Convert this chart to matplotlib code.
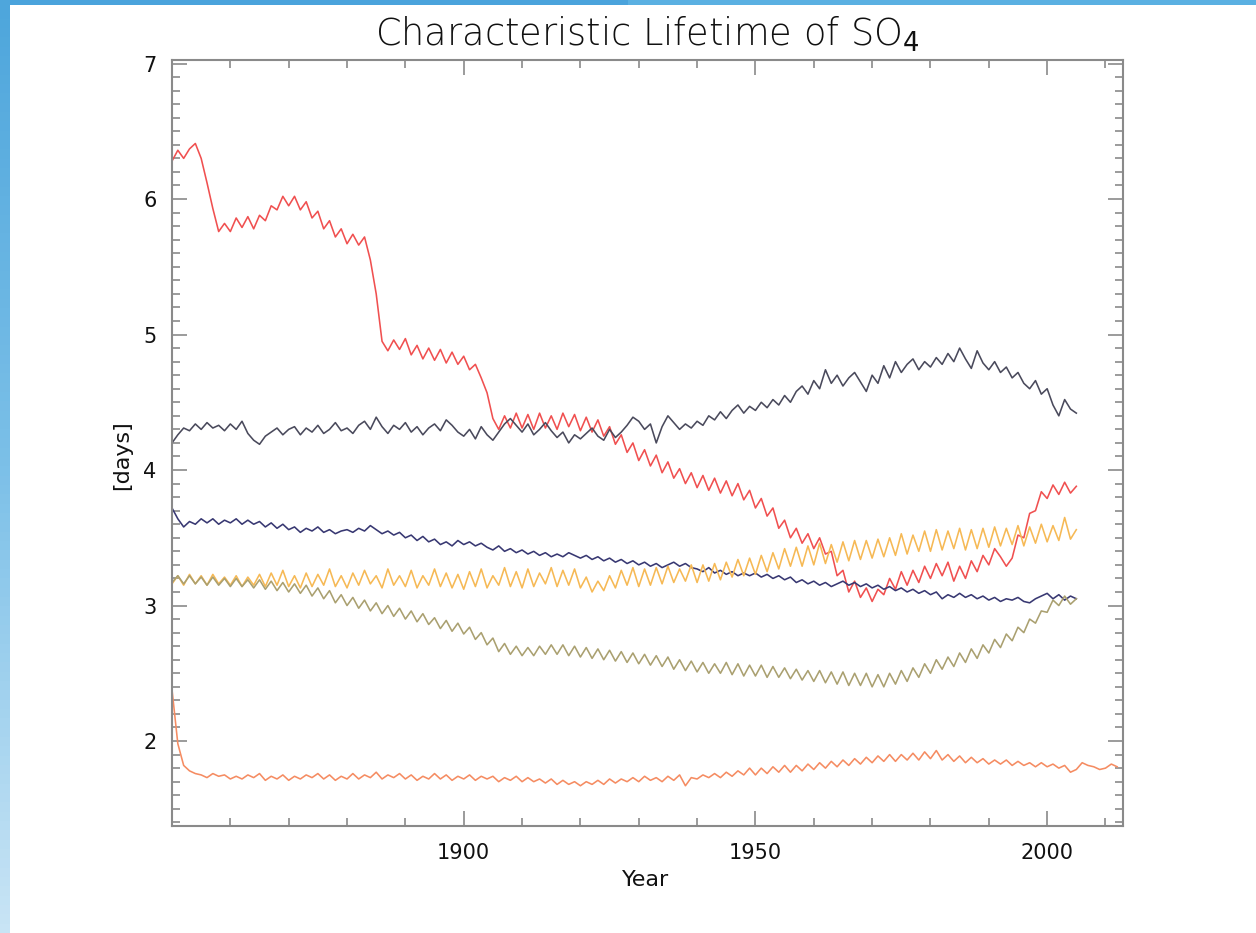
import numpy as np
import matplotlib
matplotlib.use("Agg")
import matplotlib.pyplot as plt
from matplotlib.ticker import MultipleLocator, FixedLocator

# yearly values (days)
years_main = list(range(1850, 2006))
years_salmon = list(range(1850, 2013))

red = [
    6.28, 6.36, 6.30, 6.37, 6.41, 6.30, 6.12, 5.93, 5.76, 5.82,
    5.76, 5.86, 5.79, 5.87, 5.78, 5.88, 5.84, 5.95, 5.92, 6.02,
    5.95, 6.02, 5.92, 5.98, 5.86, 5.91, 5.78, 5.84, 5.72, 5.78,
    5.67, 5.74, 5.66, 5.72, 5.55, 5.30, 4.95, 4.88, 4.96, 4.89,
    4.97, 4.85, 4.92, 4.82, 4.90, 4.81, 4.89, 4.79, 4.87, 4.78,
    4.84, 4.74, 4.78, 4.68, 4.57, 4.38, 4.30, 4.40, 4.31, 4.42,
    4.31, 4.41, 4.30, 4.42, 4.31, 4.40, 4.30, 4.42, 4.32, 4.41,
    4.29, 4.39, 4.28, 4.37, 4.25, 4.32, 4.19, 4.26, 4.13, 4.20,
    4.07, 4.15, 4.03, 4.11, 3.98, 4.06, 3.94, 4.01, 3.90, 3.98,
    3.87, 3.96, 3.85, 3.94, 3.83, 3.92, 3.81, 3.90, 3.78, 3.85,
    3.72, 3.79, 3.66, 3.72, 3.57, 3.63, 3.50, 3.57, 3.46, 3.53,
    3.42, 3.50, 3.38, 3.40, 3.22, 3.26, 3.10, 3.18, 3.06, 3.13,
    3.03, 3.12, 3.08, 3.20, 3.12, 3.25, 3.15, 3.26, 3.17, 3.29,
    3.20, 3.31, 3.22, 3.32, 3.18, 3.29, 3.20, 3.33, 3.25, 3.37,
    3.30, 3.42, 3.36, 3.29, 3.35, 3.52, 3.50, 3.68, 3.70, 3.84,
    3.79, 3.89, 3.82, 3.91, 3.83, 3.88,
]

gray = [
    4.20, 4.26, 4.31, 4.29, 4.34, 4.30, 4.35, 4.31, 4.33, 4.29,
    4.34, 4.30, 4.36, 4.27, 4.22, 4.19, 4.25, 4.28, 4.31, 4.26,
    4.30, 4.32, 4.26, 4.31, 4.28, 4.33, 4.27, 4.30, 4.35, 4.29,
    4.31, 4.27, 4.33, 4.36, 4.30, 4.39, 4.32, 4.27, 4.33, 4.30,
    4.35, 4.28, 4.32, 4.26, 4.31, 4.34, 4.29, 4.37, 4.33, 4.28,
    4.25, 4.30, 4.23, 4.32, 4.26, 4.22, 4.28, 4.34, 4.38, 4.33,
    4.28, 4.34, 4.26, 4.30, 4.35, 4.29, 4.24, 4.28, 4.20, 4.26,
    4.23, 4.27, 4.31, 4.25, 4.22, 4.30, 4.24, 4.28, 4.33, 4.39,
    4.36, 4.30, 4.34, 4.20, 4.32, 4.40, 4.35, 4.30, 4.34, 4.31,
    4.36, 4.33, 4.40, 4.37, 4.43, 4.38, 4.44, 4.48, 4.42, 4.47,
    4.44, 4.50, 4.46, 4.52, 4.48, 4.55, 4.50, 4.58, 4.62, 4.56,
    4.66, 4.60, 4.74, 4.64, 4.70, 4.62, 4.68, 4.72, 4.65, 4.58,
    4.70, 4.64, 4.77, 4.68, 4.80, 4.72, 4.78, 4.82, 4.74, 4.80,
    4.76, 4.83, 4.78, 4.86, 4.80, 4.90, 4.82, 4.75, 4.88, 4.79,
    4.74, 4.80, 4.72, 4.76, 4.68, 4.72, 4.64, 4.60, 4.66, 4.56,
    4.60, 4.48, 4.40, 4.52, 4.45, 4.42,
]

navy = [
    3.72, 3.64, 3.58, 3.62, 3.60, 3.64, 3.61, 3.64, 3.60, 3.63,
    3.61, 3.64, 3.60, 3.63, 3.60, 3.62, 3.58, 3.61, 3.57, 3.60,
    3.56, 3.58, 3.54, 3.57, 3.55, 3.58, 3.54, 3.56, 3.53, 3.55,
    3.56, 3.54, 3.57, 3.55, 3.59, 3.56, 3.53, 3.55, 3.52, 3.54,
    3.50, 3.52, 3.48, 3.51, 3.47, 3.49, 3.45, 3.47, 3.44, 3.48,
    3.45, 3.47, 3.44, 3.46, 3.43, 3.41, 3.44, 3.40, 3.42, 3.39,
    3.41, 3.38, 3.40, 3.37, 3.39, 3.36, 3.38, 3.36, 3.39, 3.37,
    3.35, 3.37, 3.34, 3.36, 3.33, 3.35, 3.32, 3.34, 3.31, 3.33,
    3.30, 3.32, 3.29, 3.31, 3.28, 3.30, 3.32, 3.29, 3.31, 3.28,
    3.27, 3.25, 3.28, 3.24, 3.26, 3.23, 3.25, 3.22, 3.24, 3.22,
    3.24, 3.21, 3.23, 3.20, 3.22, 3.19, 3.21, 3.17, 3.19, 3.16,
    3.18, 3.15, 3.17, 3.14, 3.16, 3.18, 3.15, 3.17, 3.14, 3.16,
    3.13, 3.15, 3.12, 3.14, 3.11, 3.13, 3.10, 3.12, 3.09, 3.11,
    3.08, 3.10, 3.05, 3.08, 3.06, 3.09, 3.06, 3.08, 3.05, 3.07,
    3.04, 3.06, 3.03, 3.05, 3.04, 3.06, 3.03, 3.02, 3.05, 3.07,
    3.09, 3.05, 3.08, 3.04, 3.07, 3.05,
]

gold = [
    3.16, 3.22, 3.15, 3.23, 3.16, 3.22, 3.15, 3.23, 3.16, 3.21,
    3.15, 3.22, 3.14, 3.21, 3.15, 3.23, 3.14, 3.24, 3.15, 3.26,
    3.14, 3.22, 3.13, 3.24, 3.14, 3.23, 3.15, 3.27, 3.14, 3.22,
    3.13, 3.24, 3.15, 3.26, 3.16, 3.22, 3.13, 3.27, 3.15, 3.22,
    3.14, 3.26, 3.13, 3.22, 3.15, 3.27, 3.14, 3.24, 3.13, 3.23,
    3.12, 3.25, 3.14, 3.27, 3.13, 3.22, 3.15, 3.28, 3.14, 3.25,
    3.13, 3.27, 3.14, 3.24, 3.16, 3.28, 3.14, 3.26, 3.15, 3.27,
    3.13, 3.21, 3.10, 3.18, 3.11, 3.22, 3.13, 3.26, 3.15, 3.28,
    3.14, 3.27, 3.15, 3.28, 3.16, 3.29, 3.17, 3.27, 3.18, 3.30,
    3.17, 3.30, 3.18, 3.31, 3.19, 3.32, 3.21, 3.34, 3.22, 3.35,
    3.23, 3.37, 3.25, 3.39, 3.27, 3.42, 3.29, 3.43, 3.29, 3.44,
    3.30, 3.46, 3.31, 3.45, 3.32, 3.47, 3.33, 3.48, 3.34, 3.48,
    3.35, 3.49, 3.36, 3.50, 3.37, 3.53, 3.38, 3.52, 3.40, 3.55,
    3.40, 3.56, 3.41, 3.55, 3.42, 3.57, 3.41, 3.56, 3.42, 3.57,
    3.43, 3.58, 3.44, 3.57, 3.45, 3.59, 3.44, 3.58, 3.46, 3.60,
    3.47, 3.59, 3.48, 3.65, 3.49, 3.56,
]

olive = [
    3.17, 3.22, 3.16, 3.22, 3.16, 3.21, 3.15, 3.21, 3.15, 3.20,
    3.14, 3.20, 3.14, 3.19, 3.13, 3.19, 3.12, 3.18, 3.11, 3.17,
    3.10, 3.16, 3.09, 3.15, 3.07, 3.13, 3.05, 3.11, 3.02, 3.08,
    3.00, 3.06, 2.98, 3.04, 2.96, 3.02, 2.94, 3.00, 2.92, 2.98,
    2.90, 2.96, 2.88, 2.94, 2.86, 2.91, 2.83, 2.89, 2.81, 2.87,
    2.79, 2.84, 2.75, 2.80, 2.71, 2.76, 2.66, 2.72, 2.64, 2.70,
    2.63, 2.69, 2.63, 2.70, 2.64, 2.71, 2.64, 2.71, 2.63, 2.70,
    2.62, 2.69, 2.61, 2.68, 2.60, 2.67, 2.59, 2.66, 2.58, 2.65,
    2.57, 2.64, 2.56, 2.63, 2.55, 2.62, 2.53, 2.60, 2.52, 2.59,
    2.51, 2.58, 2.50, 2.57, 2.50, 2.58, 2.49, 2.57, 2.48, 2.56,
    2.48, 2.56, 2.47, 2.55, 2.47, 2.54, 2.46, 2.53, 2.45, 2.52,
    2.44, 2.52, 2.43, 2.51, 2.42, 2.51, 2.41, 2.50, 2.41, 2.50,
    2.40, 2.49, 2.40, 2.50, 2.42, 2.52, 2.44, 2.54, 2.47, 2.57,
    2.50, 2.60, 2.53, 2.62, 2.55, 2.65, 2.58, 2.68, 2.61, 2.71,
    2.65, 2.75, 2.69, 2.79, 2.74, 2.84, 2.80, 2.90, 2.87, 2.96,
    2.95, 3.04, 3.00, 3.07, 3.01, 3.05,
]

salmon = [
    2.38, 1.98, 1.82, 1.78, 1.76, 1.75, 1.73, 1.76, 1.74, 1.75,
    1.72, 1.74, 1.72, 1.75, 1.73, 1.76, 1.71, 1.74, 1.72, 1.75,
    1.71, 1.74, 1.72, 1.75, 1.73, 1.76, 1.72, 1.75, 1.71, 1.74,
    1.72, 1.76, 1.72, 1.75, 1.73, 1.77, 1.72, 1.75, 1.73, 1.76,
    1.72, 1.75, 1.71, 1.74, 1.72, 1.76, 1.72, 1.75, 1.71, 1.74,
    1.72, 1.75, 1.71, 1.74, 1.72, 1.74, 1.70, 1.73, 1.71, 1.74,
    1.70, 1.73, 1.70, 1.72, 1.69, 1.72, 1.68, 1.71, 1.68, 1.70,
    1.67, 1.70, 1.68, 1.71, 1.68, 1.72, 1.69, 1.72, 1.70, 1.73,
    1.70, 1.74, 1.71, 1.73, 1.70, 1.74, 1.71, 1.75, 1.67, 1.73,
    1.72, 1.75, 1.73, 1.76, 1.73, 1.77, 1.74, 1.78, 1.75, 1.80,
    1.75, 1.80, 1.76, 1.81, 1.77, 1.82, 1.77, 1.82, 1.78, 1.83,
    1.79, 1.84, 1.80, 1.85, 1.81, 1.86, 1.82, 1.87, 1.83, 1.88,
    1.84, 1.89, 1.85, 1.90, 1.85, 1.90, 1.86, 1.91, 1.86, 1.92,
    1.87, 1.93, 1.86, 1.90, 1.85, 1.89, 1.84, 1.88, 1.84, 1.87,
    1.83, 1.86, 1.83, 1.86, 1.82, 1.85, 1.82, 1.84, 1.81, 1.84,
    1.81, 1.83, 1.80, 1.82, 1.77, 1.79, 1.84, 1.82, 1.81, 1.79,
    1.80, 1.83, 1.81,
]

fig = plt.figure(figsize=(12.56, 9.33), dpi=100)
fig.patch.set_facecolor("white")

# slide frame: blue band on top and left
top = fig.add_axes([0, 1 - 5 / 933, 1, 5 / 933])
top.imshow(np.array([[0, 1]]), cmap=matplotlib.colors.LinearSegmentedColormap.from_list(
    "b", ["#4aa3dc", "#5ab0e2"]), aspect="auto", extent=[0, 1, 0, 1])
top.axis("off")
left = fig.add_axes([0, 0, 10 / 1256, 1])
left.imshow(np.linspace(0, 1, 100).reshape(-1, 1), cmap=matplotlib.colors.LinearSegmentedColormap.from_list(
    "l", ["#4ea6dc", "#7cc0e8", "#c8e4f5"]), aspect="auto", extent=[0, 1, 0, 1])
left.axis("off")

ax = fig.add_axes([172 / 1256, 1 - 826 / 933, (1123 - 172) / 1256, (826 - 60) / 933])

lw = 1.15
ax.plot(years_main, red, color="#f05050", lw=lw)
ax.plot(years_main, gray, color="#4a4a5c", lw=lw)
ax.plot(years_main, navy, color="#383872", lw=lw)
ax.plot(years_main, gold, color="#f6b955", lw=lw)
ax.plot(years_main, olive, color="#aaa070", lw=lw)
ax.plot(years_salmon, salmon, color="#f58c62", lw=lw)

ax.set_xlim(1850, 2013)
ax.set_ylim(1.373, 7.026)
ax.xaxis.set_major_locator(FixedLocator([1900, 1950, 2000]))
ax.xaxis.set_minor_locator(MultipleLocator(10))
ax.yaxis.set_major_locator(FixedLocator([2, 3, 4, 5, 6, 7]))
ax.yaxis.set_minor_locator(MultipleLocator(0.1))

for s in ax.spines.values():
    s.set_color("#8a8a8a")
    s.set_linewidth(1.5)
ax.tick_params(which="both", direction="in", top=True, right=True, color="#8a8a8a", width=1.2)
ax.tick_params(which="major", length=11, labelsize=15, labelcolor="#111111")
ax.tick_params(which="minor", length=6)
ax.tick_params(axis="x", which="major", pad=12)
ax.tick_params(axis="y", which="major", pad=11)

fig.text(0.5155, 0.963, "Characteristic Lifetime of SO$_4$", ha="center", va="center",
         fontsize=26.5, color="#111111", family="DejaVu Sans", fontweight="light")
fig.text(0.097, 0.512, "[days]", rotation=90, ha="center", va="center", fontsize=16, color="#111111")
fig.text(0.514, 0.057, "Year", ha="center", va="center", fontsize=16, color="#111111")

fig.savefig("out.png", dpi=100)
